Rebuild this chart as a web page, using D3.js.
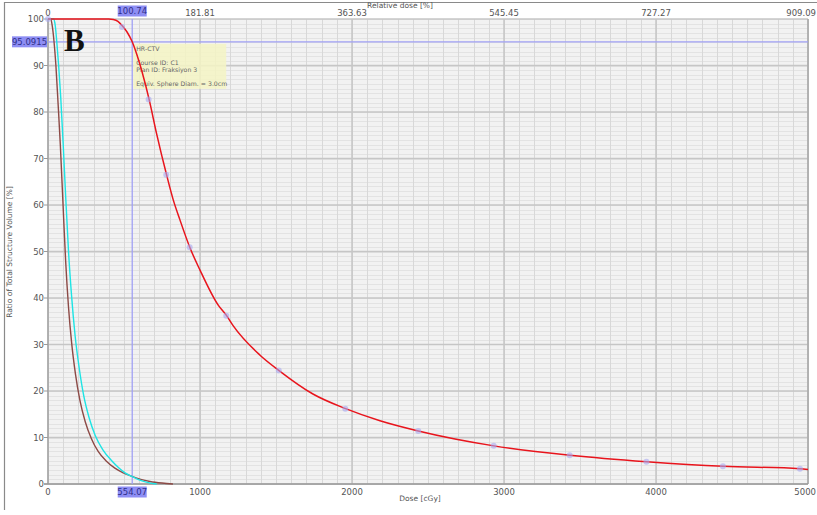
<!DOCTYPE html>
<html>
  <head>
    <meta charset="utf-8">
    <script src="https://d3js.org/d3.v7.min.js"></script>
    <style>
      body { margin: 0; background: #fff; }
    </style>
  </head>
<body>
<script type="text/javascript">

  // tick labels
  var doseTicks = [0, 1000, 2000, 3000, 4000, 5000];
  var relTickLabels = ["0", "181.81", "363.63", "545.45", "727.27", "909.09"];
  var volTicks = [0, 10, 20, 30, 40, 50, 60, 70, 80, 90, 100];

  // HR-CTV (red)
  var redDose = [0, 400, 430, 460, 490, 520, 554, 585, 620, 666, 714, 780, 824, 868, 934, 1000,
    1121, 1175, 1219, 1395, 1520, 1746, 1958, 2184, 2436, 2934, 3434, 3939, 4443, 4947, 5000];
  var redVol = [100, 100, 99.9, 99.5, 98.5, 97.2, 95.1, 92.3, 88.5, 82.6, 75.4, 66.5, 61.1, 56.8, 50.8, 46.0,
    38.4, 36.2, 34.0, 27.7, 24.4, 19.3, 16.2, 13.6, 11.4, 8.2, 6.2, 4.8, 3.8, 3.3, 3.1];

  // markers on red curve
  var markDose = [0, 487, 662, 778, 932, 1173, 1518, 1956, 2436, 2932, 3432, 3937, 4440, 4947];
  var markVol = [100, 98.3, 82.7, 66.5, 50.9, 36.2, 24.4, 16.2, 11.4, 8.2, 6.2, 4.8, 3.8, 3.3];

  // cyan structure
  var cyanDose = [0, 38, 48, 58, 70, 84, 100, 116, 135, 155, 178, 205, 235, 270, 310, 360, 419, 465, 507, 548, 600, 660, 715];
  var cyanVol = [100, 100, 98.5, 95, 90, 83, 73, 62, 50, 40.5, 32, 25, 19, 14.3, 10.5, 7.4, 5.0, 3.5, 2.4, 1.7, 0.9, 0.3, 0];

  // brown structure
  var brownDose = [0, 18, 28, 40, 52, 66, 81, 99, 116, 135, 155, 180, 210, 245, 285, 330, 381, 440, 495, 548, 610, 671, 750, 822];
  var brownVol = [100, 100, 98.5, 95, 90, 82, 73, 60, 48, 38, 30.5, 23.8, 18.0, 13.4, 9.8, 7.0, 5.0, 3.4, 2.4, 1.7, 1.0, 0.55, 0.2, 0];

  // crosshair
  var crossDose = 554.07;
  var crossRel = "100.74";
  var crossVol = 95.0915;

  var W = 817, H = 515;
  var font = "DejaVu Sans, Verdana, sans-serif";
  var svg = d3.select("body").append("svg")
      .attr("width", W)
      .attr("height", H)
      .style("font-family", font);

  var x = d3.scaleLinear().domain([0, 5000]).range([48, 808]);
  var y = d3.scaleLinear().domain([0, 100]).range([484, 19]);

  // frame
  svg.append("path")
    .attr("d", "M4.5,510 L4.5,2.5 L817,2.5")
    .attr("fill", "none")
    .attr("stroke", "#8a8a8a")
    .attr("stroke-width", 1.2);

  // plot background
  svg.append("rect")
    .attr("x", x(0)).attr("y", y(100))
    .attr("width", x(5000) - x(0)).attr("height", y(0) - y(100))
    .attr("fill", "#f2f2f2");

  // minor grid
  var g = svg.append("g");
  g.selectAll(".hmin").data(d3.range(0, 101, 1)).enter()
    .append("line")
      .attr("x1", x(0)).attr("x2", x(5000))
      .attr("y1", function(d) { return Math.round(y(d)) + 0.5; })
      .attr("y2", function(d) { return Math.round(y(d)) + 0.5; })
      .attr("stroke", "#e3e3e3");
  g.selectAll(".vmin").data(d3.range(0, 5001, 100)).enter()
    .append("line")
      .attr("y1", y(0)).attr("y2", y(100))
      .attr("x1", function(d) { return Math.round(x(d)) + 0.5; })
      .attr("x2", function(d) { return Math.round(x(d)) + 0.5; })
      .attr("stroke", "#d8d8d8");

  // major grid
  g.selectAll(".hmaj").data(volTicks).enter()
    .append("line")
      .attr("x1", x(0)).attr("x2", x(5000))
      .attr("y1", function(d) { return y(d); })
      .attr("y2", function(d) { return y(d); })
      .attr("stroke", "#c6c6c6")
      .attr("stroke-width", 1.5);
  g.selectAll(".vmaj").data(doseTicks).enter()
    .append("line")
      .attr("y1", y(0)).attr("y2", y(100))
      .attr("x1", function(d) { return x(d); })
      .attr("x2", function(d) { return x(d); })
      .attr("stroke", "#c6c6c6")
      .attr("stroke-width", 1.5);

  // right edge
  svg.append("line")
    .attr("x1", x(5000)).attr("x2", x(5000))
    .attr("y1", y(100)).attr("y2", y(0))
    .attr("stroke", "#a8a8a8").attr("stroke-width", 1.5);

  // axes
  var axisColor = "#9a9a9a";
  svg.append("line")
    .attr("x1", x(0)).attr("x2", x(0)).attr("y1", y(100)).attr("y2", y(0))
    .attr("stroke", axisColor).attr("stroke-width", 1.2);
  svg.append("line")
    .attr("x1", x(0) - 4).attr("x2", x(5000)).attr("y1", y(0)).attr("y2", y(0))
    .attr("stroke", axisColor).attr("stroke-width", 1.5);

  svg.selectAll(".ytick").data(volTicks).enter()
    .append("line")
      .attr("x1", x(0) - 4).attr("x2", x(0))
      .attr("y1", function(d) { return y(d); })
      .attr("y2", function(d) { return y(d); })
      .attr("stroke", axisColor);

  svg.selectAll(".ylab").data(volTicks).enter()
    .append("text")
      .attr("x", 44)
      .attr("y", function(d) { return y(d) + 3; })
      .attr("text-anchor", "end")
      .attr("font-size", 8.5)
      .attr("fill", "#555")
      .text(function(d) { return d; });

  // last labels pushed in from the right edge so they stay readable
  svg.selectAll(".xlab").data(doseTicks).enter()
    .append("text")
      .attr("x", function(d, i) { return i == doseTicks.length - 1 ? 816 : x(d); })
      .attr("y", 495)
      .attr("text-anchor", function(d, i) { return i == doseTicks.length - 1 ? "end" : "middle"; })
      .attr("font-size", 8.5)
      .attr("fill", "#555")
      .text(function(d) { return d; });

  svg.selectAll(".toplab").data(doseTicks).enter()
    .append("text")
      .attr("x", function(d, i) { return i == doseTicks.length - 1 ? 816 : x(d); })
      .attr("y", 16)
      .attr("text-anchor", function(d, i) { return i == doseTicks.length - 1 ? "end" : "middle"; })
      .attr("font-size", 8.5)
      .attr("fill", "#555")
      .text(function(d, i) { return relTickLabels[i]; });

  svg.append("text")
    .attr("x", 420).attr("y", 501)
    .attr("text-anchor", "middle")
    .attr("font-size", 7.5)
    .attr("fill", "#555")
    .text("Dose [cGy]");

  svg.append("text")
    .attr("x", 400).attr("y", 8)
    .attr("text-anchor", "middle")
    .attr("font-size", 7.5)
    .attr("fill", "#555")
    .text("Relative dose [%]");

  svg.append("text")
    .attr("transform", "translate(12,252) rotate(-90)")
    .attr("text-anchor", "middle")
    .attr("font-size", 7.5)
    .attr("fill", "#555")
    .text("Ratio of Total Structure Volume [%]");

  // crosshair lines
  svg.append("line")
    .attr("x1", x(0)).attr("x2", x(5000))
    .attr("y1", y(crossVol)).attr("y2", y(crossVol))
    .attr("stroke", "#a0a0f4").attr("stroke-width", 1.3);
  svg.append("line")
    .attr("x1", x(crossDose)).attr("x2", x(crossDose))
    .attr("y1", y(100)).attr("y2", y(0))
    .attr("stroke", "#a0a0f4").attr("stroke-width", 1.3);

  // tooltip box
  svg.append("rect")
    .attr("x", x(crossDose) + 1).attr("y", y(crossVol) + 2)
    .attr("width", 93).attr("height", 45)
    .attr("fill", "#f4f4c4").attr("opacity", 0.85);
  var tip = ["HR-CTV", "", "Course ID: C1", "Plan ID: Fraksiyon 3", "", "Equiv. Sphere Diam. = 3.0cm"];
  svg.selectAll(".tip").data(tip).enter()
    .append("text")
      .attr("x", x(crossDose) + 4)
      .attr("y", function(d, i) { return y(crossVol) + 9.5 + i * 7; })
      .attr("font-size", 6.2)
      .attr("fill", "#666")
      .text(function(d) { return d; });

  // curves
  var line = d3.line()
    .x(function(d) { return x(d[0]); })
    .y(function(d) { return y(d[1]); })
    .curve(d3.curveMonotoneX);

  function pairs(a, b) { return a.map(function(v, i) { return [v, b[i]]; }); }

  svg.append("path")
    .datum(pairs(brownDose, brownVol))
    .attr("d", line)
    .attr("fill", "none").attr("stroke", "#8c4a46").attr("stroke-width", 1.4);
  svg.append("path")
    .datum(pairs(cyanDose, cyanVol))
    .attr("d", line)
    .attr("fill", "none").attr("stroke", "#1de4e4").attr("stroke-width", 1.4);
  svg.append("path")
    .datum(pairs(redDose, redVol))
    .attr("d", line)
    .attr("fill", "none").attr("stroke", "#e8141c").attr("stroke-width", 1.5);

  // markers
  svg.selectAll(".mark").data(pairs(markDose, markVol)).enter()
    .append("circle")
      .attr("cx", function(d) { return x(d[0]); })
      .attr("cy", function(d) { return y(d[1]); })
      .attr("r", 3)
      .attr("fill", "#a8a8f0")
      .attr("opacity", 0.6);

  // crosshair value labels
  function valueBox(cx, cy, w, txt, anchor) {
    var bx = anchor == "middle" ? cx - w / 2 : cx - w;
    svg.append("rect")
      .attr("x", bx).attr("y", cy - 5.5)
      .attr("width", w).attr("height", 11)
      .attr("fill", "#8e8ef4");
    svg.append("text")
      .attr("x", bx + w / 2).attr("y", cy + 3)
      .attr("text-anchor", "middle")
      .attr("font-size", 8.5)
      .attr("fill", "#2e2e8a")
      .text(txt);
  }
  valueBox(x(crossDose), 11, 29, crossRel, "middle");
  valueBox(x(crossDose), 492, 29, "554.07", "middle");
  valueBox(47, y(crossVol), 35, "95.0915", "end");

  // panel letter
  svg.append("text")
    .attr("x", 64).attr("y", 51)
    .style("font-family", "'Liberation Serif', 'Times New Roman', serif")
    .attr("font-weight", "bold")
    .attr("font-size", 31)
    .attr("fill", "#111")
    .text("B");

</script>
</body>
</html>
